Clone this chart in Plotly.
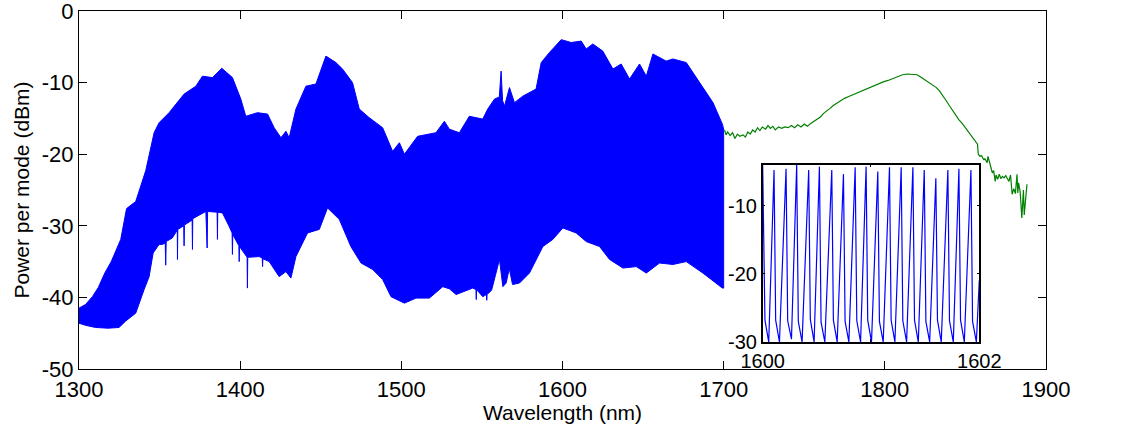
import plotly.graph_objects as go

# ---------------- data ----------------
# Comb spectrum envelope (blue band), wavelength in nm, power in dBm
upper_wl = [1300, 1304, 1308.3, 1312, 1316, 1320, 1325.9, 1329.5, 1335.2, 1341.4, 1346.6, 1349.7,
            1355.9, 1360, 1365.2, 1372.5, 1376.6, 1382.8, 1388.6, 1395.2, 1400.4, 1403.5, 1410.8,
            1417, 1421.1, 1425.3, 1428.4, 1430.4, 1434.6, 1440.8, 1447, 1453.2, 1459.4, 1463.5,
            1469.7, 1473.9, 1480.1, 1488.4, 1494.6, 1498.8, 1501.9, 1510.1, 1521.5, 1526.7,
            1529.8, 1536, 1542.2, 1550.5, 1553.6, 1557.8, 1560.8, 1561.9, 1562.8, 1564, 1567.1,
            1570.2, 1575.3, 1583.6, 1586.8, 1591.9, 1599.2, 1605.4, 1611.6, 1614.7, 1618.8,
            1625, 1631.3, 1636.4, 1641.6, 1647.8, 1652, 1656.1, 1664.3, 1668.5, 1676.8, 1685.1,
            1693.4, 1699.2, 1700]
upper_db = [-41.5, -41.0, -39.9, -38.6, -36.6, -35.0, -31.9, -27.6, -26.6, -22.3, -17.0, -15.6,
            -14.2, -13.0, -11.6, -10.5, -9.1, -9.3, -8.0, -9.3, -12.3, -14.7, -14.2,
            -14.4, -16.3, -17.7, -16.8, -17.7, -13.7, -10.5, -10.2, -6.3, -7.2, -8.1,
            -10.0, -13.7, -14.9, -16.3, -19.6, -18.4, -20.0, -17.5, -17.0, -15.4,
            -16.5, -17.0, -14.7, -15.1, -13.7, -12.3, -12.0, -8.4, -12.5, -13.3, -10.7,
            -12.8, -11.9, -10.9, -7.2, -5.8, -4.0, -4.4, -4.2, -5.3, -4.6,
            -5.6, -8.1, -7.4, -9.5, -7.4, -9.1, -6.0, -7.0, -6.7, -7.2, -10.0,
            -12.8, -15.8, -16.5]

lower_wl = [1300, 1304, 1310.3, 1318, 1324.8, 1329, 1335.2, 1340.4, 1343.5, 1346, 1349.7, 1351.7,
            1353.5, 1353.8, 1354.1, 1357.9, 1361.0, 1361.1, 1361.3, 1365.0, 1365.2, 1365.4,
            1370.2, 1370.4, 1370.6, 1374.5, 1378.7, 1379.5, 1379.8, 1385.7, 1385.9, 1386.1,
            1389, 1393.2, 1395.0, 1395.2, 1395.4, 1399.2, 1399.4, 1399.6, 1404.3, 1404.5, 1404.7,
            1407.6, 1411.8, 1413.7, 1413.9, 1414.1, 1418, 1424.2, 1428.4, 1431.5, 1434.6,
            1441.8, 1449.1, 1454.2, 1461.5, 1468.7, 1475, 1482.2, 1488.4, 1493.6, 1501.9,
            1509.1, 1517.4, 1525.7, 1529.8, 1534, 1544.3, 1546.3, 1546.5, 1546.7, 1550.5,
            1552.8, 1553.0, 1553.2, 1556, 1560.9, 1563, 1565, 1567, 1569, 1573.3, 1579.5,
            1587.8, 1594, 1600.2, 1608.5, 1614.7, 1623, 1629.2, 1637.5, 1645.8, 1652, 1660.2,
            1668.5, 1676.8, 1687.1, 1699.2, 1700]
lower_db = [-43.6, -43.9, -44.2, -44.3, -44.2, -43.3, -42.2, -38.9, -37.1, -33.8, -32.6, -32.6,
            -32.4, -35.5, -32.2, -31.7, -30.6, -34.7, -30.5, -30.0, -32.8, -29.9,
            -29.2, -33.3, -29.0, -28.5, -28.0, -33.1, -28.0, -28.1, -31.9, -28.1,
            -28.2, -30.1, -31.0, -34.0, -31.2, -32.8, -35.0, -32.9, -34.4, -38.7, -34.4,
            -34.4, -34.3, -34.5, -35.7, -34.6, -35.0, -37.1, -36.4, -37.3, -34.3,
            -31.0, -30.5, -27.5, -29.1, -32.9, -35.2, -36.1, -37.5, -39.9, -40.8,
            -40.1, -40.1, -38.5, -38.8, -39.6, -38.7, -38.9, -40.3, -38.9, -39.9,
            -39.6, -40.4, -39.6, -39.0, -34.7, -38.5, -38.0, -36.0, -38.2, -38.0, -36.6,
            -32.9, -31.9, -30.3, -31.0, -32.2, -32.9, -34.7, -35.9, -35.7, -36.6, -35.2,
            -35.4, -35.0, -36.6, -38.7, -38.7]

# Long-wavelength part measured with a different analyser (green)
green_wl = [1700.5, 1701.5, 1702.5, 1704, 1705.5, 1707, 1708.5, 1710, 1712, 1713.5, 1715, 1716.5,
            1718, 1719.5, 1721, 1722.5, 1724, 1726, 1727.5, 1729, 1730.5, 1732, 1734, 1736,
            1738, 1740, 1742, 1744, 1746, 1748, 1750, 1752, 1754, 1756, 1758, 1760, 1762,
            1764, 1766, 1768, 1770, 1772, 1775, 1778, 1781, 1784, 1787, 1790, 1793, 1796,
            1799, 1802, 1805, 1808, 1811, 1814, 1817, 1820, 1822, 1824, 1826, 1828, 1830,
            1832, 1834, 1836, 1838, 1840, 1842, 1844, 1846, 1848, 1850, 1852, 1854, 1856,
            1857.5, 1858, 1859, 1860, 1861.5, 1862, 1863.5, 1864, 1865, 1866, 1866.7, 1867.5,
            1868.5, 1869, 1870, 1871, 1872, 1873, 1874, 1875, 1876, 1877, 1878, 1879, 1880,
            1881, 1882, 1882.5, 1883, 1884, 1885, 1886, 1886.5, 1887.5, 1888.2]
green_db = [-16.6, -17.3, -16.9, -17.4, -17.0, -17.8, -17.2, -17.5, -17.3, -17.6, -16.9, -17.2,
            -16.6, -16.9, -16.3, -16.7, -16.2, -16.5, -16.0, -16.4, -16.1, -16.6, -16.2, -16.4,
            -16.2, -16.3, -16.0, -16.3, -15.9, -16.2, -15.8, -16.1, -15.7, -15.4, -15.0, -14.8, -14.3,
            -14.0, -13.6, -13.2, -12.9, -12.6, -12.2, -11.9, -11.6, -11.3, -11.1, -10.8, -10.5, -10.2,
            -9.9, -9.7, -9.4, -9.1, -8.9, -8.8, -8.8, -8.9, -9.2, -9.5, -9.8, -10.1, -10.4,
            -10.7, -11.2, -11.8, -12.5, -13.2, -13.9, -14.6, -15.2, -15.7, -16.3, -16.9, -17.5, -18.2,
            -18.6, -20.0, -20.3, -20.2, -20.8, -20.6, -21.2, -20.3, -21.4, -22.0, -22.6, -22.3,
            -23.8, -22.9, -23.5, -22.8, -23.4, -23.1, -23.3, -23.0, -23.4, -23.8, -22.9, -25.6, -24.8,
            -25.5, -22.8, -25.4, -24.0, -25.3, -28.9, -25.0, -28.5, -26.3, -24.2]

# Inset: resolved comb lines near 1600 nm
inset_wl = [1600.000, 1600.021, 1600.056,
            1600.105, 1600.120, 1600.155,
            1600.216, 1600.231, 1600.266,
            1600.314, 1600.329, 1600.364,
            1600.425, 1600.440, 1600.475,
            1600.524, 1600.539, 1600.574,
            1600.638, 1600.653, 1600.688,
            1600.746, 1600.761, 1600.796,
            1600.854, 1600.869, 1600.904,
            1600.955, 1600.970, 1601.005,
            1601.063, 1601.078, 1601.113,
            1601.171, 1601.186, 1601.221,
            1601.279, 1601.294, 1601.329,
            1601.387, 1601.402, 1601.437,
            1601.492, 1601.507, 1601.542,
            1601.599, 1601.614, 1601.649,
            1601.710, 1601.725, 1601.760,
            1601.812, 1601.827, 1601.862,
            1601.923, 1601.938, 1601.973,
            1602.000]
inset_db = [-4.1, -26.8, -30.0,
            -4.8, -26.8, -30.0,
            -4.6, -26.9, -29.6,
            -4.0, -27.0, -30.0,
            -4.8, -26.7, -30.0,
            -4.3, -27.1, -30.0,
            -4.8, -26.8, -30.0,
            -5.4, -27.0, -30.0,
            -4.4, -26.9, -30.0,
            -4.3, -26.8, -30.0,
            -5.0, -27.0, -30.0,
            -4.4, -26.8, -30.0,
            -4.4, -26.9, -30.0,
            -4.4, -26.8, -30.0,
            -4.8, -27.0, -30.0,
            -6.0, -26.8, -30.0,
            -4.8, -26.9, -30.0,
            -4.6, -26.8, -30.0,
            -4.8, -27.0, -30.0,
            -21.0]

x_ticks = [1300, 1400, 1500, 1600, 1700, 1800, 1900]
x_tick_text = ["1300", "1400", "1500", "1600", "1700", "1800", "1900"]
y_ticks = [0, -10, -20, -30, -40, -50]
y_tick_text = ["0", "-10", "-20", "-30", "-40", "-50"]
right_tick_vals = [-10, -20, -30, -40]
right_tick_text = ["100 \u00b5W", "10 \u00b5W", "1 \u00b5W", "100 nW"]
inset_x_ticks = [1600, 1601, 1602]
inset_x_text = ["1600", "", "1602"]
inset_y_ticks = [-10, -20, -30]
inset_y_text = ["-10", "-20", "-30"]

# ---------------- figure ----------------
FONT = "Arial, Liberation Sans, sans-serif"
BLUE = "#0000ff"
GREEN = "#008000"

fig = go.Figure()

band_x = upper_wl + lower_wl[::-1]
band_y = upper_db + lower_db[::-1]
fig.add_trace(go.Scatter(x=band_x, y=band_y, mode="lines", fill="toself",
                         fillcolor=BLUE, line=dict(color=BLUE, width=1),
                         hoverinfo="skip", showlegend=False, xaxis="x", yaxis="y"))
fig.add_trace(go.Scatter(x=green_wl, y=green_db, mode="lines",
                         line=dict(color=GREEN, width=1.2),
                         showlegend=False, xaxis="x", yaxis="y"))
fig.add_trace(go.Scatter(x=inset_wl, y=inset_db, mode="lines",
                         line=dict(color=BLUE, width=1.2),
                         showlegend=False, xaxis="x2", yaxis="y3"))

axis_common = dict(showgrid=False, zeroline=False, showline=True, linecolor="black",
                   linewidth=1.2, ticks="inside", tickcolor="black", automargin=False,
                   ticklabeloverflow="allow",
                   tickfont=dict(family=FONT, size=22, color="black"))

fig.update_layout(
    width=1127, height=429,
    margin=dict(l=79, r=81, t=11, b=60),
    paper_bgcolor="white", plot_bgcolor="white",
    font=dict(family=FONT, color="black"),
    xaxis=dict(**axis_common, range=[1300, 1900], tickvals=x_ticks, ticktext=x_tick_text,
               ticklen=8, mirror="ticks", domain=[0, 1], anchor="y",
               title=dict(text="Wavelength (nm)", font=dict(family=FONT, size=21), standoff=2)),
    yaxis=dict(**axis_common, range=[-50, 0], tickvals=y_ticks, ticktext=y_tick_text,
               ticklen=8, mirror="ticks", domain=[0, 1], anchor="x",
               title=dict(text="Power per mode (dBm)", font=dict(family=FONT, size=21), standoff=6)),
    yaxis2=dict(showgrid=False, zeroline=False, showline=False, overlaying="y", side="right",
                range=[-50, 0], tickvals=right_tick_vals, ticktext=right_tick_text,
                ticks="inside", ticklen=8, tickcolor="black", anchor="x", automargin=False,
                ticklabeloverflow="allow",
                tickfont=dict(family=FONT, size=20, color="black")),
    xaxis2=dict(showgrid=False, zeroline=False, showline=True, linecolor="black", linewidth=1.5,
                mirror="ticks", ticks="inside", ticklen=3, tickcolor="black", automargin=False,
                range=[1600, 1602], tickvals=inset_x_ticks, ticktext=inset_x_text,
                domain=[0.707, 0.931], anchor="y3", ticklabeloverflow="allow",
                tickfont=dict(family=FONT, size=20, color="black")),
    yaxis3=dict(showgrid=False, zeroline=False, showline=True, linecolor="black", linewidth=1.5,
                mirror="ticks", ticks="inside", ticklen=3, tickcolor="black", automargin=False,
                range=[-30, -4], tickvals=inset_y_ticks, ticktext=inset_y_text,
                domain=[0.0756, 0.571], anchor="x2", ticklabeloverflow="allow",
                tickfont=dict(family=FONT, size=20, color="black")),
)

fig.write_html("out.html", config={"displayModeBar": False},
               post_script="document.body.style.margin='0';")
